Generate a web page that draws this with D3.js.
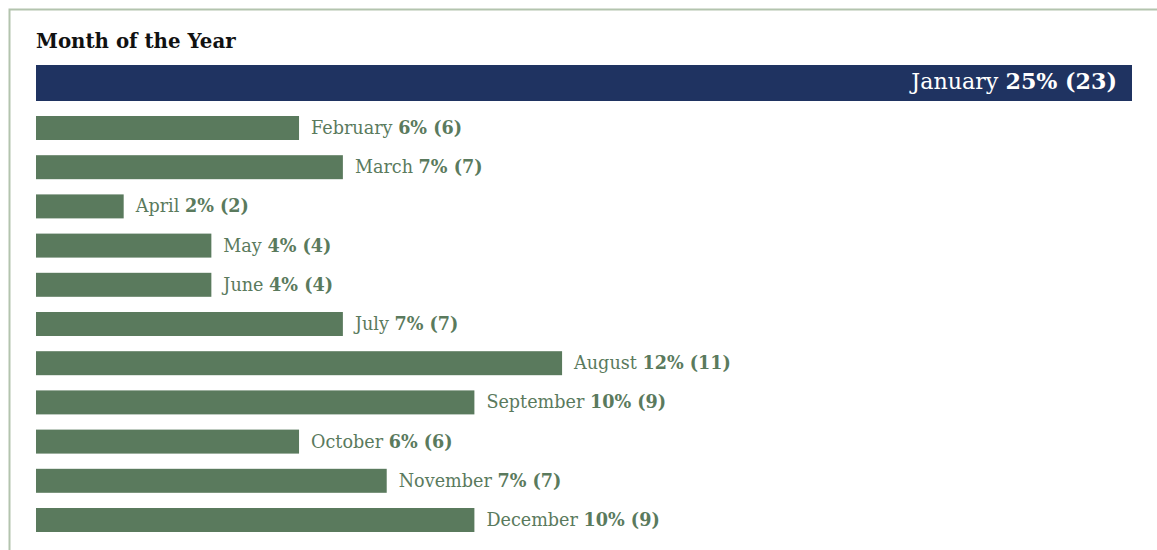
<!DOCTYPE html>
<html>
<head>
<meta charset="utf-8">
<script src="https://cdn.jsdelivr.net/npm/d3@7"></script>
<style>
  body { margin: 0; background: #fff; }
  svg { display: block; font-family: "DejaVu Serif", serif; }
</style>
</head>
<body>
<svg width="1157" height="550"></svg>
<script>
const months = ["January", "February", "March", "April", "May", "June", "July",
                "August", "September", "October", "November", "December"];
const counts = [23, 6, 7, 2, 4, 4, 7, 11, 9, 6, 7, 9];
const shares = [25, 6, 7, 2, 4, 4, 7, 12, 10, 6, 8, 10];   // bar length, %
const shareLabels = ["25%", "6%", "7%", "2%", "4%", "4%", "7%", "12%", "10%", "6%", "7%", "10%"];

const svg = d3.select("svg");
const green = "#5a7a5d", navy = "#1f3361";

// frame
svg.append("path")
  .attr("d", "M9.5,550V9.5H1157")
  .attr("fill", "none")
  .attr("stroke", "#b3c4ae")
  .attr("stroke-width", 2);

svg.append("text")
  .attr("x", 36).attr("y", 48)
  .attr("font-size", 19.8).attr("font-weight", "bold")
  .attr("fill", "#111")
  .text("Month of the Year");

const data = months.map((m, i) => ({month: m, count: counts[i], share: shares[i], label: shareLabels[i]}));
const first = data[0], rest = data.slice(1);

const x = d3.scaleLinear().domain([0, 25]).range([36, 1132]);
const y = d3.scaleBand()
  .domain(rest.map(d => d.month))
  .range([108.4, 539.6])
  .paddingInner(0.388)
  .paddingOuter(0.194);

// highlighted first row
svg.append("rect")
  .attr("x", x(0)).attr("y", 65)
  .attr("width", x(first.share) - x(0)).attr("height", 36)
  .attr("fill", navy);

const firstLabel = svg.append("text")
  .attr("x", x(first.share) - 15).attr("y", 89)
  .attr("text-anchor", "end")
  .attr("font-size", 22.2)
  .attr("fill", "#fff");
firstLabel.append("tspan").text(first.month + " ");
firstLabel.append("tspan").attr("font-weight", "bold").text(`${first.label} (${first.count})`);

svg.selectAll(".bar")
  .data(rest)
  .join("rect")
    .attr("class", "bar")
    .attr("x", x(0))
    .attr("y", d => y(d.month))
    .attr("width", d => x(d.share) - x(0))
    .attr("height", y.bandwidth())
    .attr("fill", green);

const labels = svg.selectAll(".lbl")
  .data(rest)
  .join("text")
    .attr("class", "lbl")
    .attr("x", d => x(d.share) + 12)
    .attr("y", d => y(d.month) + y.bandwidth() / 2 + 6)
    .attr("font-size", 17.6)
    .attr("fill", green);
labels.append("tspan").text(d => d.month + " ");
labels.append("tspan").attr("font-weight", "bold").text(d => `${d.label} (${d.count})`);
</script>
</body>
</html>
